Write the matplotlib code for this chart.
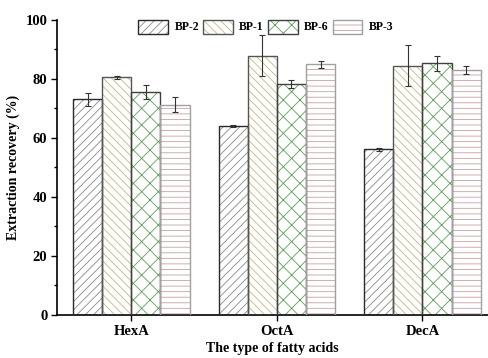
import matplotlib
matplotlib.use("Agg")
import matplotlib.pyplot as plt
import numpy as np
from matplotlib.ticker import MultipleLocator

acids = ["HexA", "OctA", "DecA"]
series = ["BP-2", "BP-1", "BP-6", "BP-3"]

# mean extraction recovery (%) per sorbent, in order HexA, OctA, DecA
bp2 = [73.1, 64.0, 56.1]
bp1 = [80.4, 87.8, 84.4]
bp6 = [75.4, 78.1, 85.2]
bp3 = [71.2, 84.9, 82.9]

bp2_err = [2.2, 0.4, 0.5]
bp1_err = [0.6, 6.9, 6.9]
bp6_err = [2.3, 1.4, 2.5]
bp3_err = [2.5, 1.2, 1.3]

values = [bp2, bp1, bp6, bp3]
errors = [bp2_err, bp1_err, bp6_err, bp3_err]

hatches = ["////", "\\\\\\\\", "xx", "---"]
hatch_colors = ["#8a8a8a", "#c2b880", "#5aa05a", "#c8a0a0"]
edge_colors = ["#2a2a2a", "#555555", "#404040", "#a0a0a0"]

plt.rcParams["font.family"] = ["Liberation Serif", "DejaVu Serif"]
plt.rcParams["font.weight"] = "bold"
plt.rcParams["hatch.linewidth"] = 0.6

fig = plt.figure(figsize=(4.88, 3.58), dpi=100)
ax = fig.add_axes([0.117, 0.12, 0.883, 0.8255])

x = np.arange(1, len(acids) + 1)
width = 0.2
handles = []
for i, name in enumerate(series):
    pos = x + (i - 1.5) * width
    hb = ax.bar(pos, values[i], width, color="white", edgecolor=hatch_colors[i],
                hatch=hatches[i], linewidth=0, zorder=2)
    eb = ax.bar(pos, values[i], width, color="none", edgecolor=edge_colors[i],
                linewidth=1.0, zorder=3)
    ax.errorbar(pos, values[i], yerr=errors[i], fmt="none", ecolor="#333333",
                elinewidth=0.8, capsize=2.5, capthick=0.8, zorder=4)
    handles.append((hb.patches[0], eb.patches[0]))

ax.set_xlim(0.49, 3.45)
ax.set_ylim(0, 100)
ax.set_xticks(x)
ax.set_xticklabels(acids)
ax.yaxis.set_major_locator(MultipleLocator(20))
ax.yaxis.set_minor_locator(MultipleLocator(10))
ax.tick_params(axis="both", which="major", direction="out", length=4, width=1,
               labelsize=10.5, pad=3)
ax.tick_params(axis="y", which="minor", direction="out", length=2.5, width=1)
ax.spines["top"].set_visible(False)
ax.spines["right"].set_visible(False)
for s in ["left", "bottom"]:
    ax.spines[s].set_linewidth(1.2)

ax.set_xlabel("The type of fatty acids", fontsize=10, fontweight="bold", labelpad=3)
ax.set_ylabel("Extraction recovery (%)", fontsize=10, fontweight="bold", labelpad=4)

fig.legend(handles, series, loc="upper center", bbox_to_anchor=(0.545, 0.962),
           ncol=4, frameon=False, fontsize=8.5, handlelength=2.5,
           handleheight=1.45, handletextpad=0.55, columnspacing=0.35, borderpad=0)

fig.savefig("out.png", dpi=100)
